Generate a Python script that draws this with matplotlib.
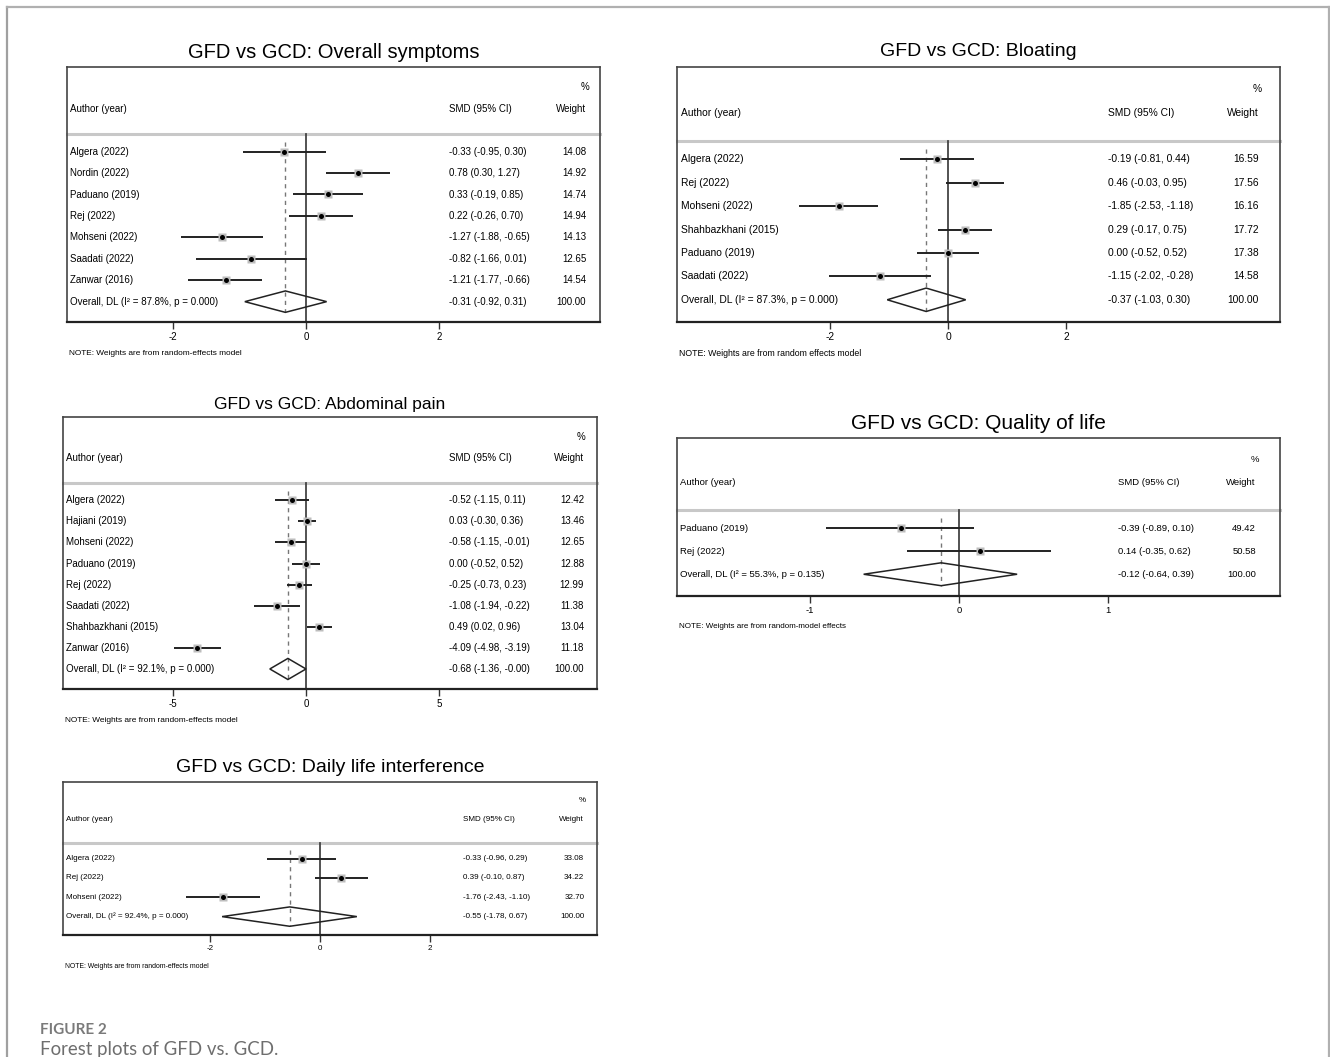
import matplotlib
matplotlib.use("Agg")
import matplotlib.pyplot as plt
from matplotlib.patches import Polygon
from matplotlib.lines import Line2D
import matplotlib.transforms as mtransforms

plt.rcParams['font.family'] = ['Liberation Sans', 'DejaVu Sans']

# ---------------- data ----------------
titles = ["GFD vs GCD: Overall symptoms", "GFD vs GCD: Bloating",
          "GFD vs GCD: Abdominal pain", "GFD vs GCD: Quality of life",
          "GFD vs GCD: Daily life interference"]

authors1 = ["Algera (2022)", "Nordin (2022)", "Paduano (2019)", "Rej (2022)",
            "Mohseni (2022)", "Saadati (2022)", "Zanwar (2016)"]
smd1 = [-0.33, 0.78, 0.33, 0.22, -1.27, -0.82, -1.21]
lo1 = [-0.95, 0.30, -0.19, -0.26, -1.88, -1.66, -1.77]
hi1 = [0.30, 1.27, 0.85, 0.70, -0.65, 0.01, -0.66]
w1 = [14.08, 14.92, 14.74, 14.94, 14.13, 12.65, 14.54]
overall1 = [-0.31, -0.92, 0.31]
het1 = [87.8, 0.000]

authors2 = ["Algera (2022)", "Rej (2022)", "Mohseni (2022)", "Shahbazkhani (2015)",
            "Paduano (2019)", "Saadati (2022)"]
smd2 = [-0.19, 0.46, -1.85, 0.29, 0.00, -1.15]
lo2 = [-0.81, -0.03, -2.53, -0.17, -0.52, -2.02]
hi2 = [0.44, 0.95, -1.18, 0.75, 0.52, -0.28]
w2 = [16.59, 17.56, 16.16, 17.72, 17.38, 14.58]
overall2 = [-0.37, -1.03, 0.30]
het2 = [87.3, 0.000]

authors3 = ["Algera (2022)", "Hajiani (2019)", "Mohseni (2022)", "Paduano (2019)",
            "Rej (2022)", "Saadati (2022)", "Shahbazkhani (2015)", "Zanwar (2016)"]
smd3 = [-0.52, 0.03, -0.58, 0.00, -0.25, -1.08, 0.49, -4.09]
lo3 = [-1.15, -0.30, -1.15, -0.52, -0.73, -1.94, 0.02, -4.98]
hi3 = [0.11, 0.36, -0.01, 0.52, 0.23, -0.22, 0.96, -3.19]
w3 = [12.42, 13.46, 12.65, 12.88, 12.99, 11.38, 13.04, 11.18]
overall3 = [-0.68, -1.36, -0.00]
het3 = [92.1, 0.000]

authors4 = ["Paduano (2019)", "Rej (2022)"]
smd4 = [-0.39, 0.14]
lo4 = [-0.89, -0.35]
hi4 = [0.10, 0.62]
w4 = [49.42, 50.58]
overall4 = [-0.12, -0.64, 0.39]
het4 = [55.3, 0.135]

authors5 = ["Algera (2022)", "Rej (2022)", "Mohseni (2022)"]
smd5 = [-0.33, 0.39, -1.76]
lo5 = [-0.96, -0.10, -2.43]
hi5 = [0.29, 0.87, -1.10]
w5 = [33.08, 34.22, 32.70]
overall5 = [-0.55, -1.78, 0.67]
het5 = [92.4, 0.000]

overall_weight = 100.00

ticks1 = [-2, 0, 2]
ticks2 = [-2, 0, 2]
ticks3 = [-5, 0, 5]
ticks4 = [-1, 0, 1]
ticks5 = [-2, 0, 2]

notes = ["NOTE: Weights are from random-effects model",
         "NOTE: Weights are from random effects model",
         "NOTE: Weights are from random-effects model",
         "NOTE: Weights are from random-model effects",
         "NOTE: Weights are from random-effects model"]

# ---------------- layout (pixels) ----------------
W, H = 1330, 1057
fig = plt.figure(figsize=(W / 100, H / 100), dpi=100)

# frame around the page (left, top, right)
fig.add_artist(Line2D([7 / W, 7 / W], [0, 1 - 7 / H], color='#a0a0a0', lw=1.6))
fig.add_artist(Line2D([7 / W, 1329 / W], [1 - 7 / H, 1 - 7 / H], color='#b0b0b0', lw=1.6))
fig.add_artist(Line2D([1329 / W, 1329 / W], [0, 1 - 7 / H], color='#b0b0b0', lw=1.6))

# panel: box (left, top, right, bottom), zero px, unit px, title y, fontsizes
panels = [
    dict(box=(67, 67, 600, 322), zero=306, unit=66.5, ty=52, tfs=14.5, fs=7.0,
         cols=(0.006, 0.717, 0.974, 0.980)),
    dict(box=(677, 67, 1280, 322), zero=948, unit=59.0, ty=52, tfs=14.0, fs=7.4,
         cols=(0.007, 0.715, 0.965, 0.970)),
    dict(box=(63, 417, 597, 689), zero=306, unit=26.6, ty=405, tfs=12.5, fs=7.0,
         cols=(0.006, 0.723, 0.976, 0.978)),
    dict(box=(677, 438, 1280, 596), zero=959, unit=149.0, ty=424, tfs=15.0, fs=6.8,
         cols=(0.005, 0.731, 0.960, 0.966)),
    dict(box=(63, 782, 597, 935), zero=320, unit=55.0, ty=768, tfs=14.0, fs=5.8,
         cols=(0.006, 0.749, 0.976, 0.980)),
]

datasets = [
    (authors1, smd1, lo1, hi1, w1, overall1, het1, ticks1),
    (authors2, smd2, lo2, hi2, w2, overall2, het2, ticks2),
    (authors3, smd3, lo3, hi3, w3, overall3, het3, ticks3),
    (authors4, smd4, lo4, hi4, w4, overall4, het4, ticks4),
    (authors5, smd5, lo5, hi5, w5, overall5, het5, ticks5),
]

for p, d, title, note in zip(panels, datasets, titles, notes):
    authors, smd, lo, hi, w, ov, het, ticks = d
    L, T, R, B = p['box']
    ax = fig.add_axes([L / W, 1 - B / H, (R - L) / W, (B - T) / H])
    n = len(authors)
    last = n  # overall row index
    ax.set_xlim((L - p['zero']) / p['unit'], (R - p['zero']) / p['unit'])
    ax.set_ylim(last + 0.95, -3.95)
    fs = p['fs']
    c_auth, c_smd, c_w, c_pct = p['cols']
    tr = mtransforms.blended_transform_factory(ax.transAxes, ax.transData)

    # spines
    for s in ['left', 'right', 'top']:
        ax.spines[s].set_color('#444444')
        ax.spines[s].set_linewidth(1.2)
    ax.spines['bottom'].set_color('#222222')
    ax.spines['bottom'].set_linewidth(1.6)
    ax.set_yticks([])
    ax.set_xticks(ticks)
    ax.set_xticklabels([str(t) for t in ticks], fontsize=fs)
    ax.tick_params(axis='x', length=5, width=1.0, color='#333333', pad=2)

    # header
    sep = -0.8
    ax.plot([0, 1], [sep, sep], transform=tr, color='#c8c8c8', lw=2.2, clip_on=False)
    ax.text(c_pct, -3.0, "%", transform=tr, ha='right', va='center', fontsize=fs)
    ax.text(c_auth, -2.0, "Author (year)", transform=tr, ha='left', va='center', fontsize=fs)
    ax.text(c_smd, -2.0, "SMD (95% CI)", transform=tr, ha='left', va='center', fontsize=fs)
    ax.text(c_w, -2.0, "Weight", transform=tr, ha='right', va='center', fontsize=fs)

    # zero line
    ax.plot([0, 0], [sep, last + 0.95], color='#444444', lw=1.3, zorder=2)
    # dashed overall line
    ax.plot([ov[0], ov[0]], [-0.45, last + 0.5], color='#777777', lw=1.0,
            ls=(0, (3, 3)), zorder=2)

    for i in range(n):
        ax.plot([lo[i], hi[i]], [i, i], color='#222222', lw=1.4, zorder=3,
                solid_capstyle='butt')
        ax.plot([smd[i]], [i], marker='s', ms=6.0, color='#bdbdbd', mec='none', zorder=4)
        ax.plot([smd[i]], [i], marker='o', ms=3.6, color='black', mec='none', zorder=5)
        ax.text(c_auth, i, authors[i], transform=tr, ha='left', va='center', fontsize=fs)
        ax.text(c_smd, i, f"{smd[i]:.2f} ({lo[i]:.2f}, {hi[i]:.2f})", transform=tr,
                ha='left', va='center', fontsize=fs)
        ax.text(c_w, i, f"{w[i]:.2f}", transform=tr, ha='right', va='center', fontsize=fs)

    # diamond
    dh = 0.5
    diamond = Polygon([[ov[1], last], [ov[0], last - dh], [ov[2], last], [ov[0], last + dh]],
                      closed=True, fill=False, edgecolor='#222222', lw=1.1, zorder=4)
    ax.add_patch(diamond)
    ax.text(c_auth, last, f"Overall, DL (I\u00b2 = {het[0]:.1f}%, p = {het[1]:.3f})",
            transform=tr, ha='left', va='center', fontsize=fs)
    ax.text(c_smd, last, f"{ov[0]:.2f} ({ov[1]:.2f}, {ov[2]:.2f})", transform=tr,
            ha='left', va='center', fontsize=fs)
    ax.text(c_w, last, f"{overall_weight:.2f}", transform=tr, ha='right', va='center',
            fontsize=fs)

    # title
    fig.text(((L + R) / 2) / W, 1 - p['ty'] / H, title, ha='center', va='center',
             fontsize=p['tfs'])
    # note
    fig.text((L + 2) / W, 1 - (B + 31) / H, note, ha='left', va='center',
             fontsize=fs * 0.85)

# caption
fig.text(40 / W, 1 - 1030 / H, "FIGURE 2", ha='left', va='center', fontsize=11.0,
         color='#7a7a7a', family=['Lato', 'DejaVu Sans'], fontweight='bold')
fig.text(40 / W, 1 - 1049 / H, "Forest plots of GFD vs. GCD.", ha='left', va='center',
         fontsize=13.4, color='#6e6e6e', family=['Lato', 'DejaVu Sans'])

fig.savefig("out.png", dpi=100, facecolor='white')
